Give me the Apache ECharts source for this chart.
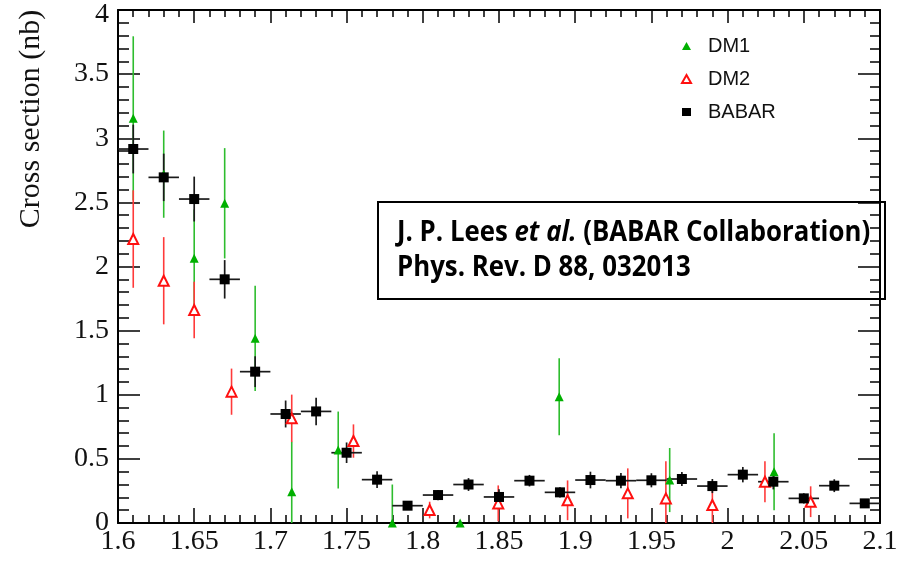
<!DOCTYPE html>
<html>
<head>
<meta charset="utf-8">
<script src="https://cdn.jsdelivr.net/npm/echarts@6/dist/echarts.min.js"></script>
<style>
  html, body { margin: 0; padding: 0; background: #fff; }
  #chart { width: 913px; height: 561px; }
</style>
</head>
<body>
<div id="chart"></div>
<script>
// e+e- -> K+K-pi0 style cross-section points (nb) vs energy (GeV)
const babarX = [1.61, 1.63, 1.65, 1.67, 1.69, 1.71, 1.73, 1.75, 1.77, 1.79, 1.81, 1.83, 1.85,
                1.87, 1.89, 1.91, 1.93, 1.95, 1.97, 1.99, 2.01, 2.03, 2.05, 2.07, 2.09];
const babarY = [2.916, 2.695, 2.526, 1.900, 1.180, 0.850, 0.870, 0.548, 0.338, 0.135, 0.218, 0.300, 0.203,
                0.330, 0.239, 0.335, 0.330, 0.333, 0.343, 0.288, 0.377, 0.322, 0.192, 0.291, 0.153];
const babarErr = [0.19, 0.185, 0.175, 0.15, 0.12, 0.105, 0.107, 0.08, 0.065, 0.03, 0.04, 0.05, 0.06,
                  0.045, 0.04, 0.065, 0.06, 0.055, 0.055, 0.055, 0.06, 0.06, 0.04, 0.05, 0.03];
const babarBinHalf = 0.01;

const dm1X = [1.61, 1.63, 1.65, 1.67, 1.69, 1.714, 1.7445, 1.78, 1.8245, 1.8895, 1.962, 2.0305];
const dm1Y = [3.155, 2.72, 2.064, 2.493, 1.44, 0.244, 0.569, 0.0, 0.0, 0.985, 0.335, 0.40];
const dm1Err = [0.64, 0.34, 0.38, 0.43, 0.41, 0.39, 0.30, 0.30, 0.0, 0.30, 0.25, 0.30];

const dm2X = [1.61, 1.63, 1.65, 1.6745, 1.714, 1.7545, 1.8045, 1.8495, 1.895, 1.9345, 1.9595, 1.990, 2.0245, 2.0545];
const dm2Y = [2.214, 1.889, 1.661, 1.024, 0.816, 0.639, 0.101, 0.153, 0.177, 0.231, 0.192, 0.140, 0.322, 0.166];
const dm2Err = [0.38, 0.34, 0.22, 0.18, 0.185, 0.13, 0.065, 0.14, 0.155, 0.195, 0.29, 0.16, 0.16, 0.12];

const xTickMin = 1.6, xTickMax = 2.1, xTickStep = 0.05;
const yTickMin = 0, yTickMax = 4, yTickStep = 0.5;

const legendNames = ['DM1', 'DM2', 'BABAR'];
const yTitle = 'Cross section (nb)';
const refLine1 = 'J. P. Lees {i|et al.} (BABAR Collaboration)';
const refLine2 = 'Phys. Rev. D 88, 032013';

const GREEN = '#00b000', GREEN_BAR = '#2ebd2e';
const RED = '#ff1010', RED_BAR = '#ff3a3a';
const BLACK = '#000000';

function rows(xs, ys, es, xh) {
  return xs.map((x, i) => [x, ys[i], es[i], xh]);
}

// error bars: vertical (stat. error) and optional horizontal (bin width)
function errorBars(color, width) {
  return function (params, api) {
    const x = api.value(0), y = api.value(1), e = api.value(2), xh = api.value(3);
    const children = [];
    if (e > 0) {
      const p1 = api.coord([x, Math.min(yTickMax, y + e)]);
      const p2 = api.coord([x, Math.max(yTickMin, y - e)]);
      children.push({ type: 'line', shape: { x1: p1[0], y1: p1[1], x2: p2[0], y2: p2[1] },
                      style: { stroke: color, lineWidth: width } });
    }
    if (xh > 0) {
      const q1 = api.coord([x - xh, y]);
      const q2 = api.coord([x + xh, y]);
      children.push({ type: 'line', shape: { x1: q1[0], y1: q1[1], x2: q2[0], y2: q2[1] },
                      style: { stroke: color, lineWidth: width } });
    }
    return { type: 'group', children };
  };
}

const labelFont = { fontFamily: 'Liberation Serif', fontSize: 28, color: '#111' };

function xAxisDef(pos, showLabel, major, minor) {
  return {
    type: 'value', position: pos, min: xTickMin, max: xTickMax, interval: xTickStep,
    axisLine: { show: true, onZero: false, lineStyle: { color: BLACK, width: 2 } },
    axisTick: { show: true, inside: true, length: major, lineStyle: { color: BLACK, width: 1.5 } },
    minorTick: { show: true, splitNumber: 5, length: minor, lineStyle: { color: BLACK, width: 1.5 } },
    splitLine: { show: false },
    axisLabel: Object.assign({ show: showLabel, margin: 5 }, labelFont)
  };
}
function yAxisDef(pos, showLabel, major, minor) {
  return {
    type: 'value', position: pos, min: yTickMin, max: yTickMax, interval: yTickStep,
    axisLine: { show: true, onZero: false, lineStyle: { color: BLACK, width: 2 } },
    axisTick: { show: true, inside: true, length: major, lineStyle: { color: BLACK, width: 1.5 } },
    minorTick: { show: true, splitNumber: 5, length: minor, lineStyle: { color: BLACK, width: 1.5 } },
    splitLine: { show: false },
    axisLabel: Object.assign({
      show: showLabel, margin: 9,
      // the top label sits a little lower so it stays inside the page
      formatter: v => (v === yTickMax ? '{t|' + v + '}' : String(v)),
      rich: { t: { fontFamily: 'Liberation Serif', fontSize: 28, color: '#111', padding: [10, 0, 0, 0] } }
    }, labelFont)
  };
}

const chart = echarts.init(document.getElementById('chart'), null, { renderer: 'canvas' });
chart.setOption({
  animation: false,
  backgroundColor: '#fff',
  grid: { left: 118, top: 10, right: 33, bottom: 38, containLabel: false },
  xAxis: [xAxisDef('bottom', true, 15, 8), xAxisDef('top', false, 13, 7)],
  yAxis: [yAxisDef('left', true, 22, 11), yAxisDef('right', false, 22, 10)],
  legend: {
    orient: 'vertical', left: 676, top: 31, itemWidth: 9, itemHeight: 8, itemGap: 13,
    selectedMode: false,
    textStyle: { fontFamily: 'Liberation Sans', fontSize: 20, color: '#111', padding: [0, 0, 0, 12] },
    data: [
      { name: legendNames[0], icon: 'triangle', itemStyle: { color: GREEN } },
      { name: legendNames[1], icon: 'emptyTriangle', itemStyle: { color: RED, borderColor: RED, borderWidth: 1.5 } },
      { name: legendNames[2], icon: 'rect', itemStyle: { color: BLACK } }
    ]
  },
  series: [
    { type: 'custom', name: 'dm1-err', xAxisIndex: 0, yAxisIndex: 0, clip: true,
      renderItem: errorBars(GREEN_BAR, 1.6), encode: { x: 0, y: 1 },
      data: rows(dm1X, dm1Y, dm1Err, 0) },
    { type: 'scatter', name: legendNames[0], symbol: 'triangle', symbolSize: 9,
      itemStyle: { color: GREEN, opacity: 1 }, clip: false,
      data: dm1X.map((x, i) => [x, dm1Y[i]]) },
    { type: 'custom', name: 'dm2-err', xAxisIndex: 0, yAxisIndex: 0, clip: true,
      renderItem: errorBars(RED_BAR, 1.6), encode: { x: 0, y: 1 },
      data: rows(dm2X, dm2Y, dm2Err, 0) },
    { type: 'scatter', name: legendNames[1], symbol: 'emptyTriangle', symbolSize: 10,
      itemStyle: { color: RED, borderColor: RED, borderWidth: 1.5, opacity: 1 },
      data: dm2X.map((x, i) => [x, dm2Y[i]]) },
    { type: 'custom', name: 'babar-err', xAxisIndex: 0, yAxisIndex: 0, clip: true,
      renderItem: errorBars('#1a1a1a', 1.7), encode: { x: 0, y: 1 },
      data: rows(babarX, babarY, babarErr, babarBinHalf) },
    { type: 'scatter', name: legendNames[2], symbol: 'rect', symbolSize: 10,
      itemStyle: { color: BLACK, opacity: 1 },
      data: babarX.map((x, i) => [x, babarY[i]]) }
  ],
  graphic: [
    { type: 'text', x: 31, y: 119, rotation: Math.PI / 2, z: 10,
      style: { text: yTitle, fontFamily: 'Liberation Serif', fontSize: 30, fill: '#111',
               align: 'center', verticalAlign: 'middle' } },
    { type: 'group', z: 100, children: [
      { type: 'rect', shape: { x: 378, y: 202, width: 507, height: 97 },
        style: { fill: '#fff', stroke: BLACK, lineWidth: 2 } },
      { type: 'text', x: 397, y: 218, scaleX: 0.89,
        style: { text: refLine1, fontFamily: 'Open Sans', fontWeight: 'bold', fontSize: 29,
                 fill: '#000', align: 'left', verticalAlign: 'top',
                 rich: { i: { fontFamily: 'Open Sans', fontWeight: 'bold', fontStyle: 'italic', fontSize: 29, fill: '#000' } } } },
      { type: 'text', x: 397, y: 253, scaleX: 0.89,
        style: { text: refLine2, fontFamily: 'Open Sans', fontWeight: 'bold', fontSize: 29,
                 fill: '#000', align: 'left', verticalAlign: 'top' } }
    ] }
  ]
});
</script>
</body>
</html>
